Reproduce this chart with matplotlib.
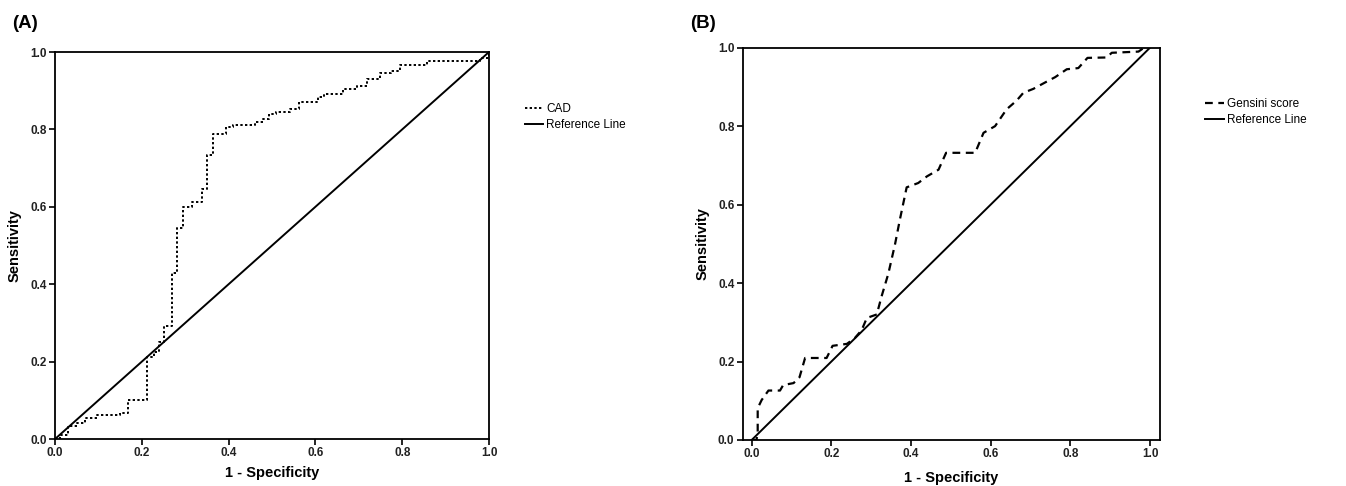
import matplotlib
matplotlib.use('Agg')
import matplotlib.pyplot as plt

plt.rcParams['font.family'] = ['Liberation Sans', 'DejaVu Sans']

# Panel A - CAD ROC curve (step vertices)
cad_x = [0.0, 0.012, 0.012, 0.029, 0.029, 0.05, 0.05, 0.069, 0.069, 0.096, 0.096,
         0.15, 0.15, 0.169, 0.169, 0.211, 0.211, 0.228, 0.228, 0.239, 0.239,
         0.252, 0.252, 0.269, 0.269, 0.28, 0.28, 0.295, 0.295, 0.315, 0.315,
         0.338, 0.338, 0.351, 0.351, 0.365, 0.365, 0.394, 0.394, 0.41, 0.41,
         0.46, 0.46, 0.48, 0.48, 0.493, 0.493, 0.51, 0.51, 0.541, 0.541,
         0.563, 0.563, 0.606, 0.606, 0.62, 0.62, 0.664, 0.664, 0.695, 0.695,
         0.718, 0.718, 0.748, 0.748, 0.775, 0.775, 0.794, 0.794, 0.856, 0.856,
         0.979, 0.979, 1.0, 1.0]
cad_y = [0.0, 0.0, 0.01, 0.01, 0.034, 0.034, 0.042, 0.042, 0.053, 0.053, 0.063,
         0.063, 0.068, 0.068, 0.1, 0.1, 0.213, 0.213, 0.225, 0.225, 0.251,
         0.251, 0.292, 0.292, 0.429, 0.429, 0.544, 0.544, 0.6, 0.6, 0.612,
         0.612, 0.647, 0.647, 0.733, 0.733, 0.789, 0.789, 0.806, 0.806, 0.812,
         0.812, 0.818, 0.818, 0.826, 0.826, 0.841, 0.841, 0.846, 0.846, 0.853,
         0.853, 0.871, 0.871, 0.884, 0.884, 0.892, 0.892, 0.905, 0.905, 0.912,
         0.912, 0.931, 0.931, 0.946, 0.946, 0.952, 0.952, 0.966, 0.966, 0.978,
         0.978, 0.985, 0.985, 1.0]

# Panel B - Gensini score ROC curve
gen_x = [0.0, 0.012, 0.015, 0.015, 0.025, 0.042, 0.071, 0.079, 0.105, 0.12, 0.134,
         0.188, 0.203, 0.239, 0.259, 0.276, 0.289, 0.314, 0.326, 0.343, 0.36,
         0.372, 0.389, 0.418, 0.44, 0.469, 0.488, 0.561, 0.582, 0.611, 0.64,
         0.665, 0.682, 0.707, 0.736, 0.762, 0.791, 0.82, 0.843, 0.891, 0.904,
         0.971, 0.985, 1.0]
gen_y = [0.0, 0.0, 0.02, 0.081, 0.102, 0.126, 0.126, 0.14, 0.145, 0.16, 0.209,
         0.209, 0.24, 0.245, 0.26, 0.28, 0.311, 0.32, 0.366, 0.424, 0.5,
         0.562, 0.644, 0.655, 0.672, 0.689, 0.732, 0.732, 0.783, 0.8, 0.843,
         0.865, 0.885, 0.895, 0.911, 0.925, 0.945, 0.948, 0.974, 0.975, 0.987,
         0.99, 1.0, 1.0]

ticks = [0.0, 0.2, 0.4, 0.6, 0.8, 1.0]
tick_labels = ['0.0', '0.2', '0.4', '0.6', '0.8', '1.0']

fig = plt.figure(figsize=(13.46, 4.86), dpi=100)
axA = fig.add_axes([0.0409, 0.0967, 0.3224, 0.7963])
axB = fig.add_axes([0.5518, 0.0947, 0.3100, 0.8072])


def style_axis(ax, xlim, xpad):
    ax.set_xlim(*xlim)
    ax.set_ylim(0, 1)
    ax.set_xticks(ticks)
    ax.set_yticks(ticks)
    ax.set_xticklabels(tick_labels)
    ax.set_yticklabels(tick_labels)
    ax.tick_params(direction='out', length=4, width=1.2, labelsize=8.5, pad=2)
    for lbl in ax.get_xticklabels() + ax.get_yticklabels():
        lbl.set_fontweight('bold')
        lbl.set_color('#222222')
    for sp in ax.spines.values():
        sp.set_linewidth(1.3)
    ax.set_xlabel('1 - Specificity', fontsize=10.5, fontweight='bold', labelpad=xpad)
    ax.set_ylabel('Sensitivity', fontsize=10.5, fontweight='bold', labelpad=6)


# (A)
axA.plot(cad_x, cad_y, color='black', linestyle=(0, (1.2, 1.2)), linewidth=1.4, label='CAD')
axA.plot([0, 1], [0, 1], color='black', linewidth=1.4, label='Reference Line')
style_axis(axA, (0, 1), 5)
axA.legend(loc='upper left', bbox_to_anchor=(0.386, 0.80), bbox_transform=fig.transFigure,
           frameon=False, fontsize=8.5, handlelength=1.5, handletextpad=0.25,
           labelspacing=0.35, borderpad=0)
fig.text(0.009, 0.952, '(A)', fontsize=13.5, fontweight='bold', va='center')

# (B)
axB.plot(gen_x, gen_y, color='black', linestyle=(0, (3.5, 2.5)), linewidth=1.6, label='Gensini score')
axB.plot([0, 1], [0, 1], color='black', linewidth=1.4, label='Reference Line')
style_axis(axB, (-0.0226, 1.025), 8)
axB.legend(loc='upper left', bbox_to_anchor=(0.891, 0.81), bbox_transform=fig.transFigure,
           frameon=False, fontsize=8.5, handlelength=1.6, handletextpad=0.25,
           labelspacing=0.35, borderpad=0)
fig.text(0.513, 0.952, '(B)', fontsize=13.5, fontweight='bold', va='center')

fig.savefig('out.png', dpi=100)
